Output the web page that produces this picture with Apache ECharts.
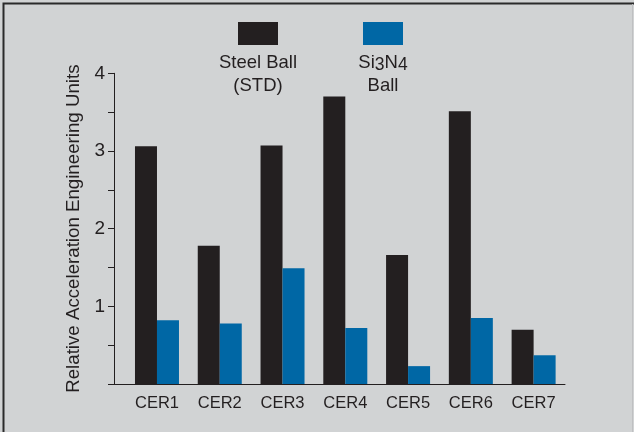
<!DOCTYPE html>
<html>
<head>
<meta charset="utf-8">
<script src="https://cdn.jsdelivr.net/npm/echarts@6/dist/echarts.min.js"></script>
<style>
html,body{margin:0;padding:0;background:#d1d3d4;}
#c{width:634px;height:432px;}
</style>
</head>
<body>
<div id="c"></div>
<script>
var categories = ['CER1','CER2','CER3','CER4','CER5','CER6','CER7'];
var steelBall = [3.06, 1.78, 3.07, 3.70, 1.66, 3.51, 0.70];
var si3n4Ball = [0.82, 0.78, 1.49, 0.72, 0.23, 0.85, 0.37];
var seriesNames = ['Steel Ball (STD)', 'Si3N4 Ball'];
var yName = 'Relative Acceleration Engineering Units';

var FONT = "'Liberation Sans', Arial, sans-serif";
var INK = '#231f20';
var BLUE = '#0067a5';

var chart = echarts.init(document.getElementById('c'), null, {renderer:'canvas'});
chart.setOption({
  backgroundColor: '#d1d3d4',
  animation: false,
  grid: [
    {left: 114, right: 69, top: 73.3, bottom: 48},
    {left: 125.6, right: 69, top: 73.3, bottom: 48}
  ],
  legend: [
    {data: [seriesNames[0]], icon: 'rect', left: 238, top: 22, itemWidth: 40, itemHeight: 23,
     formatter: function(){return '';}, selectedMode: false, padding: 0},
    {data: [seriesNames[1]], icon: 'rect', left: 363, top: 22, itemWidth: 40, itemHeight: 23,
     formatter: function(){return '';}, selectedMode: false, padding: 0}
  ],
  xAxis: [
    {type: 'value', gridIndex: 0, min: 0, max: 1, show: true,
     axisLine: {show: true, onZero: false, lineStyle: {color: INK, width: 1}},
     axisTick: {show: false}, axisLabel: {show: false}, splitLine: {show: false}},
    {type: 'category', gridIndex: 1, data: categories,
     axisLine: {show: false}, axisTick: {show: false}, splitLine: {show: false},
     axisLabel: {color: INK, fontFamily: FONT, fontSize: 16.5, margin: 11}}
  ],
  yAxis: [
    {type: 'value', gridIndex: 0, min: 0, max: 4, interval: 0.5,
     name: yName, nameLocation: 'middle', nameGap: 29,
     nameTextStyle: {color: INK, fontFamily: FONT, fontSize: 18.7},
     axisLine: {show: true, lineStyle: {color: INK, width: 1}},
     axisTick: {show: true, length: 6, lineStyle: {color: INK, width: 1}},
     axisLabel: {color: INK, fontFamily: FONT, fontSize: 19, margin: 9,
       formatter: function(v){ return (v % 1 === 0 && v > 0) ? String(v) : ''; }},
     splitLine: {show: false}},
    {type: 'value', gridIndex: 1, min: 0, max: 4, show: false, splitLine: {show: false}}
  ],
  series: [
    {name: seriesNames[0], type: 'bar', xAxisIndex: 1, yAxisIndex: 1, data: steelBall,
     barWidth: 22, barGap: '0%', itemStyle: {color: INK}},
    {name: seriesNames[1], type: 'bar', xAxisIndex: 1, yAxisIndex: 1, data: si3n4Ball,
     barWidth: 22, barGap: '0%', itemStyle: {color: BLUE}}
  ],
  graphic: [
    {type: 'polyline', shape: {points: [[3.5, 432], [3.5, 3.5], [634, 3.5]]},
     style: {stroke: '#2a2a2a', lineWidth: 2, fill: null}},
    {type: 'line', shape: {x1: 632.5, y1: 4, x2: 632.5, y2: 432},
     style: {stroke: '#bfc0c2', lineWidth: 1}},
    {type: 'text', position: [258, 51],
     style: {text: 'Steel Ball\n(STD)', textAlign: 'center', fill: INK,
       font: '18.5px ' + FONT, lineHeight: 23}},
    {type: 'text', position: [383, 51],
     style: {text: '{n|Si}{s|3}{n|N}{s|4}\n{n|Ball}', textAlign: 'center', fill: INK,
       font: '18.5px ' + FONT, lineHeight: 23,
       rich: {n: {fontSize: 18.5, fontFamily: FONT, color: INK, lineHeight: 23},
              s: {fontSize: 17.5, fontFamily: FONT, color: INK, lineHeight: 23, padding: [6, 0, 0, 0]}}}}
  ]
});
</script>
</body>
</html>
